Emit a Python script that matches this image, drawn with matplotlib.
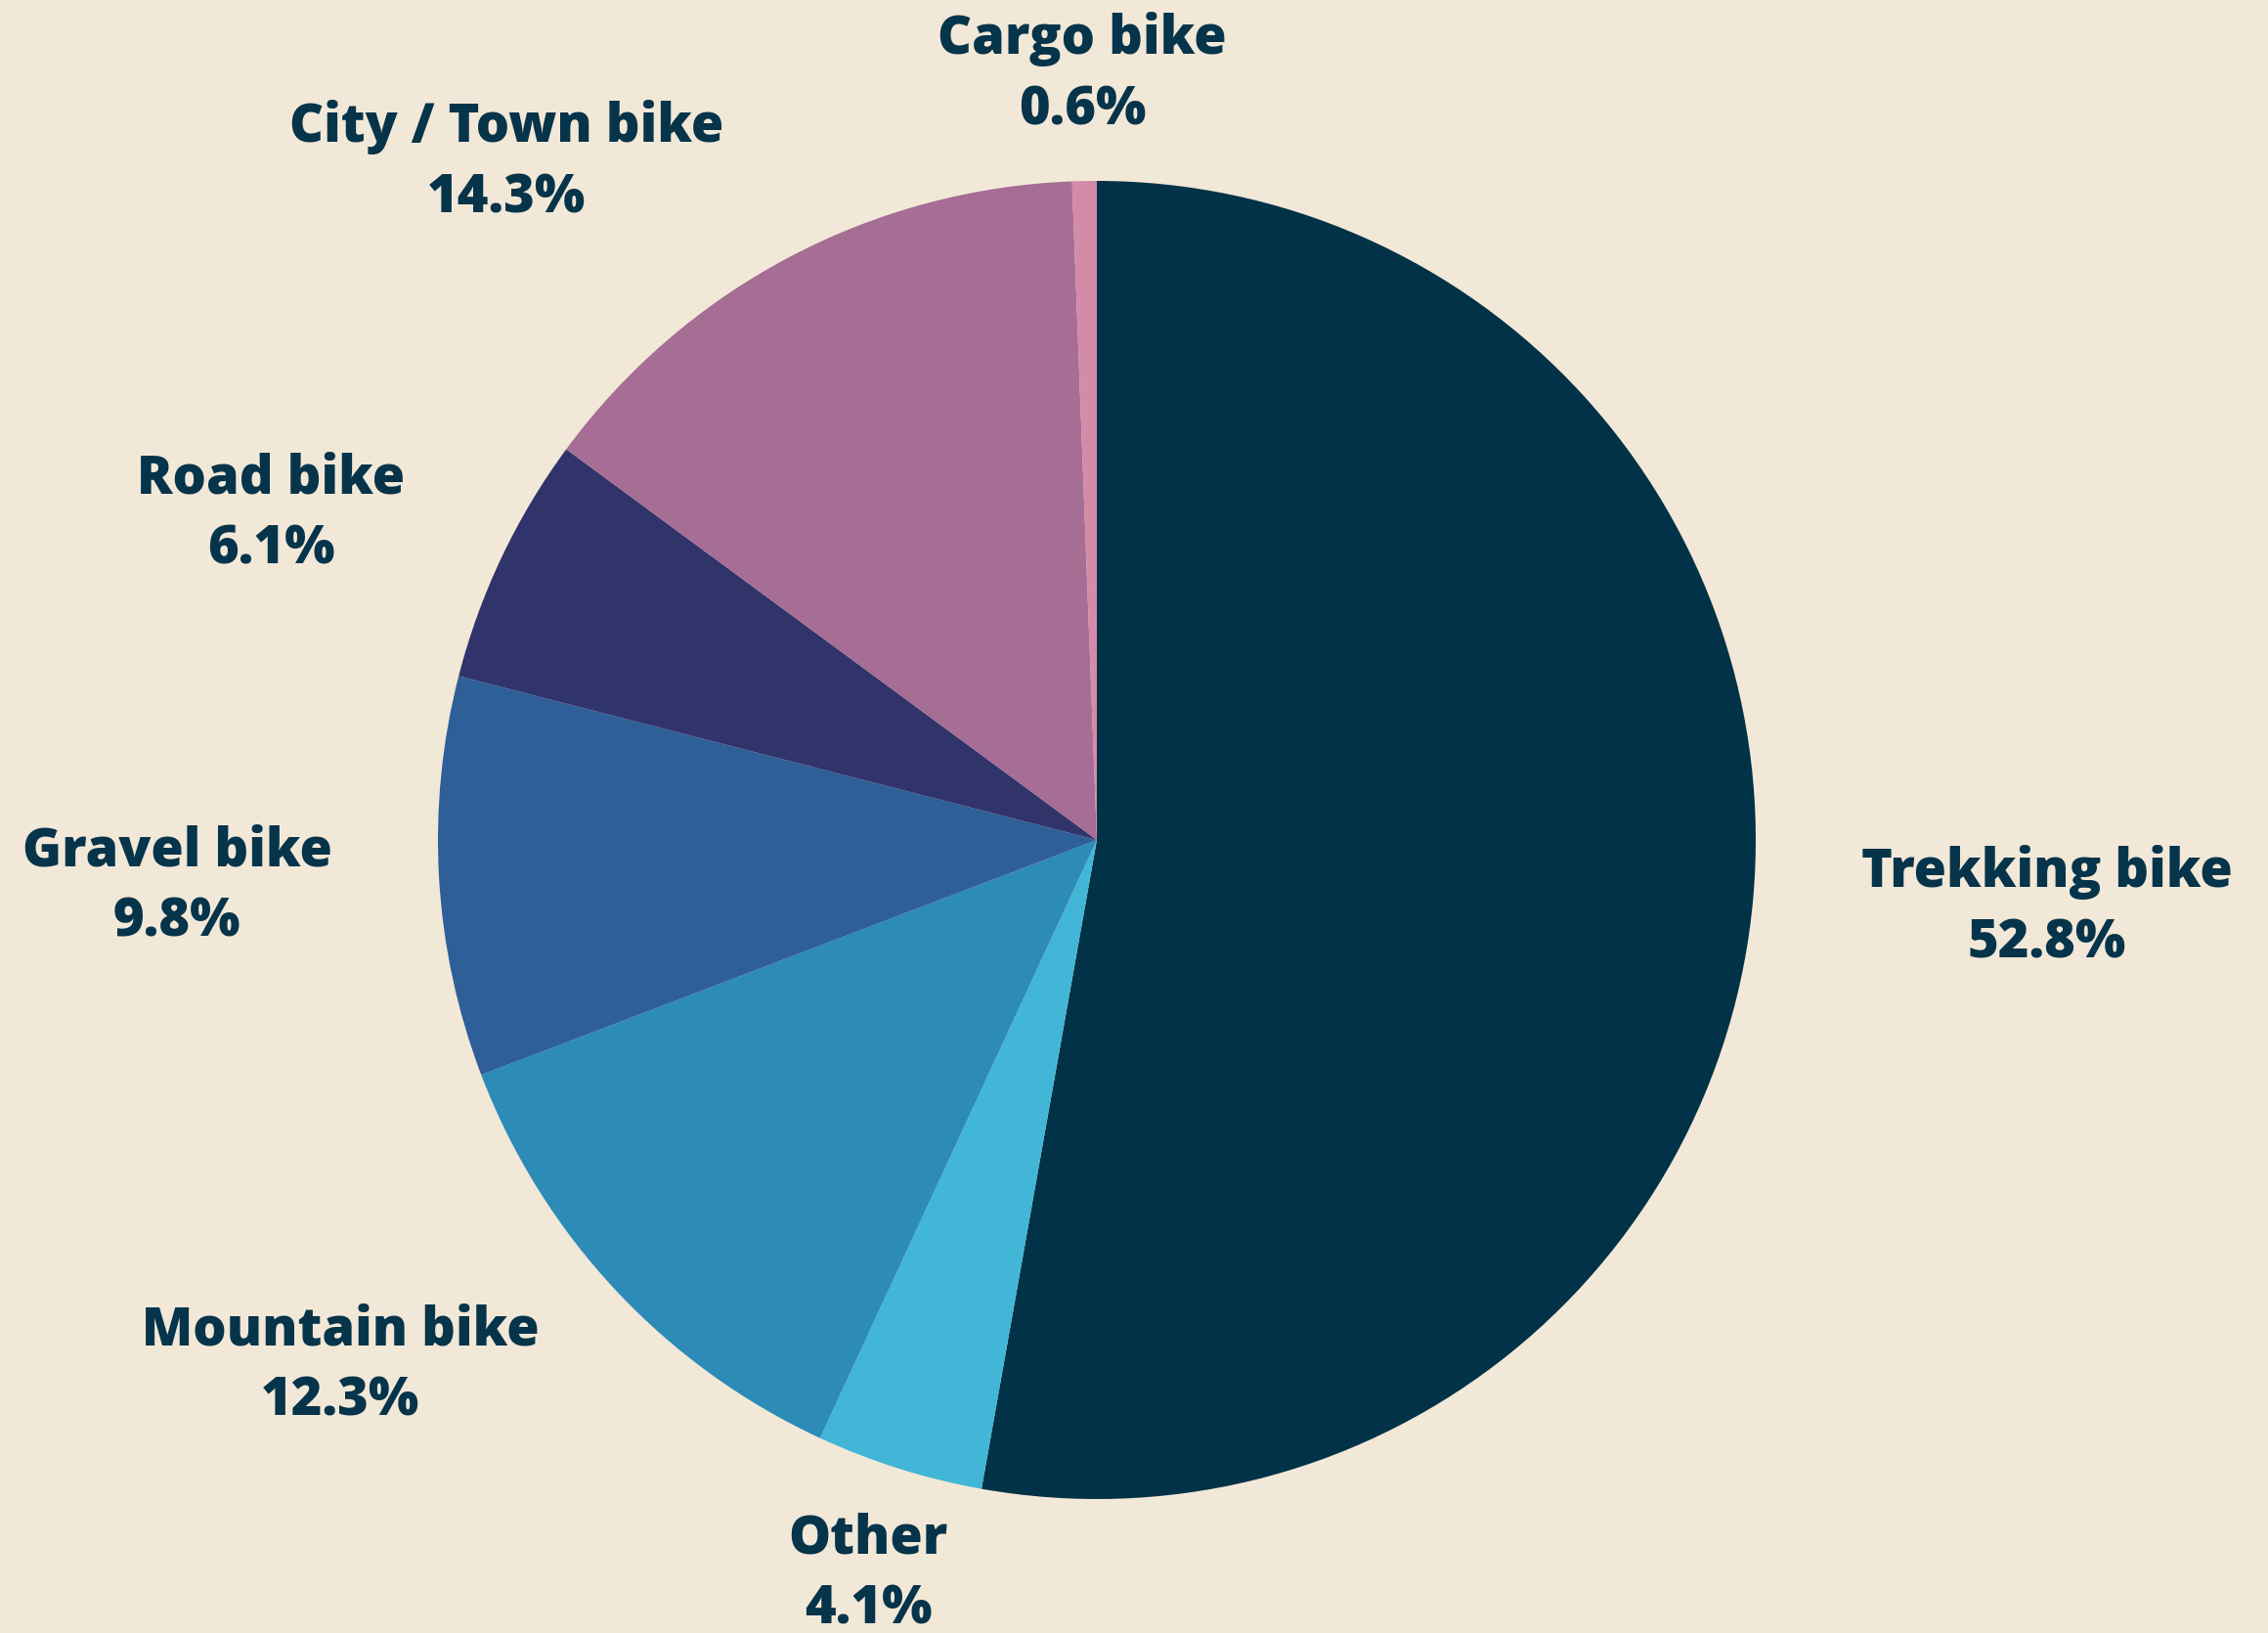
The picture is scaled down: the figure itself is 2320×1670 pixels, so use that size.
import numpy as np
import matplotlib
matplotlib.use('Agg')
import matplotlib.pyplot as plt

# 데이터
categories = ['Trekking bike', 'Other', 'Mountain bike', 'Gravel bike',
              'Road bike', 'City / Town bike', 'Cargo bike']
shares = [52.8, 4.1, 12.3, 9.8, 6.1, 14.3, 0.6]
colors = ['#023247', '#42b6d6', '#2d8bb8', '#2e5f98',
          '#31346b', '#a66d95', '#d48ba8']

# 라벨 위치 (픽셀, 위쪽 기준)
label_pos = [(2094, 928), (888, 1610), (348, 1397), (181, 907),
             (277, 526), (518, 166), (1107, 76)]

W, H = 2320, 1670
bg = '#f2e8d8'
txt_color = '#06344a'

fig = plt.figure(figsize=(W / 100, H / 100), dpi=100, facecolor=bg)
ax = fig.add_axes([0, 0, 1, 1])
ax.set_facecolor(bg)

cx, cy, r = 1122, H - 859, 674
wedges, texts = ax.pie(shares, colors=colors, startangle=90, counterclock=False,
                       center=(cx, cy), radius=r, labels=categories,
                       wedgeprops=dict(linewidth=0), frame=True)
ax.set_xlim(0, W)
ax.set_ylim(0, H)
ax.set_aspect('equal')
ax.axis('off')

for t, name, val, (px, py) in zip(texts, categories, shares, label_pos):
    t.set_text('{}\n{:.1f}%'.format(name, val))
    t.set_position((px, H - py))
    t.set_ha('center')
    t.set_va('center')
    t.set_fontfamily(['Open Sans', 'DejaVu Sans'])
    t.set_fontweight(800)
    t.set_fontsize(39)
    t.set_color(txt_color)
    t.set_linespacing(1.42)

fig.savefig('out.png', dpi=100, facecolor=bg)
